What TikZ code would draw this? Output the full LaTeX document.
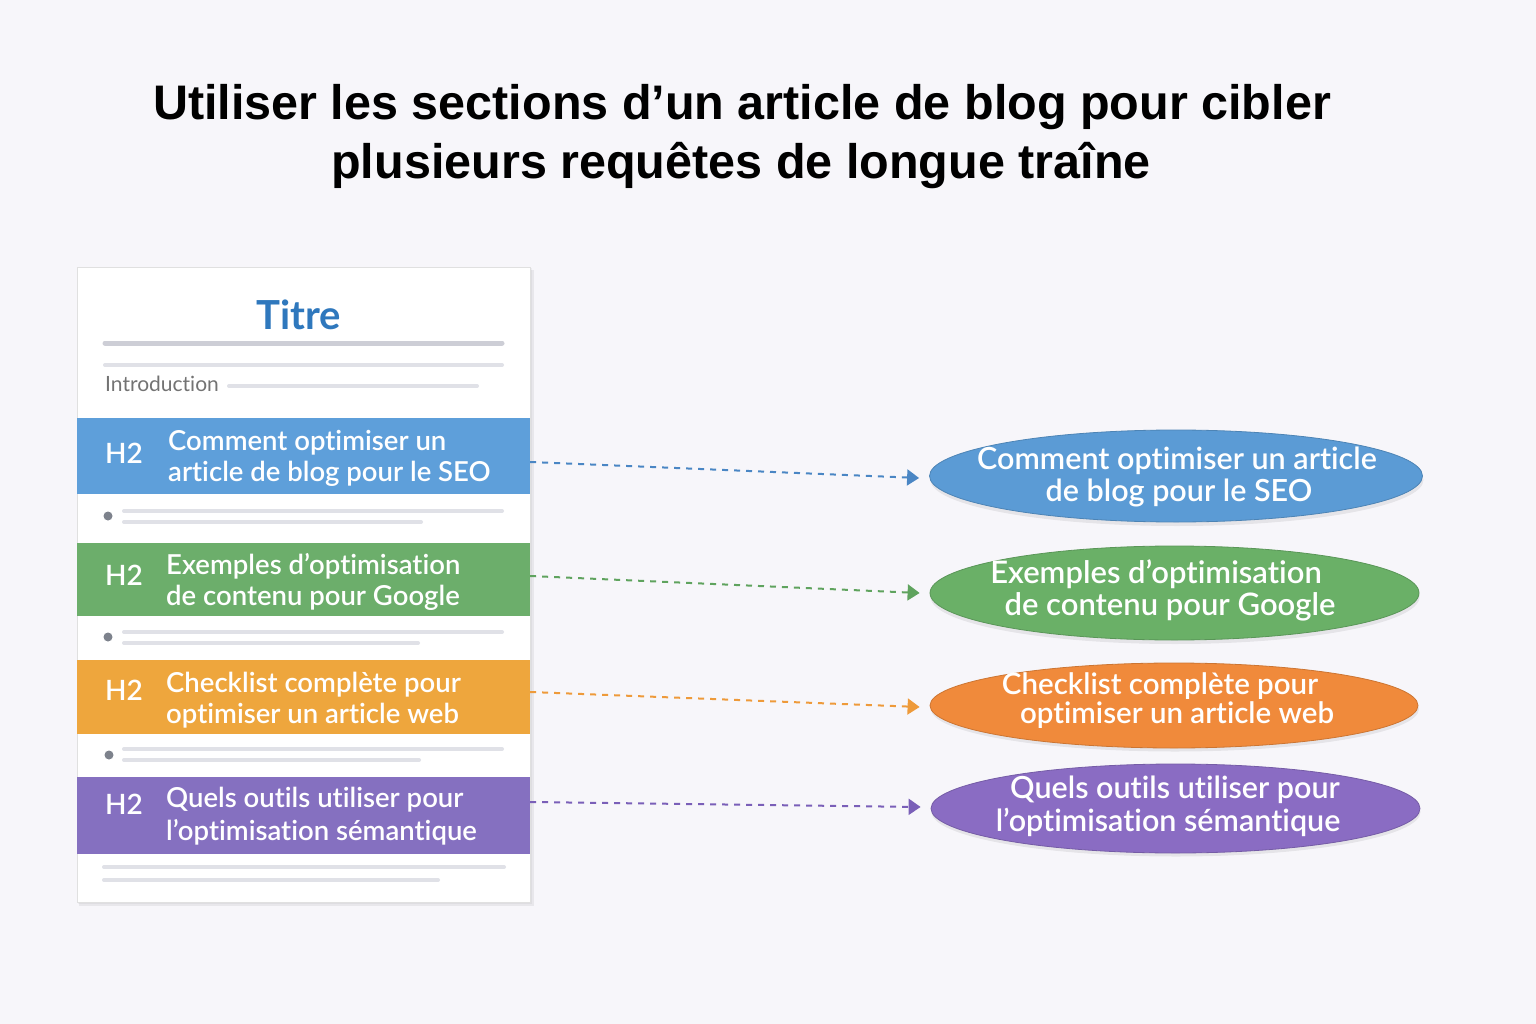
\documentclass[tikz,border=0pt]{standalone}
\usepackage{fontspec}
\setmainfont{Lato}[Ligatures=NoCommon]
\newfontfamily\medfont{Lato Semibold}[Ligatures=NoCommon]
\newfontfamily\titlefont{Liberation Sans}
\usetikzlibrary{arrows.meta,shapes.geometric}
\definecolor{bg}{HTML}{F7F6FA}
\definecolor{bandblue}{HTML}{5E9FDA}
\definecolor{bandgreen}{HTML}{6CAE6B}
\definecolor{bandorange}{HTML}{EEA63D}
\definecolor{bandpurple}{HTML}{8570C0}
\definecolor{eblue}{HTML}{5B9BD5}
\definecolor{egreen}{HTML}{6AB067}
\definecolor{eorange}{HTML}{F08A3B}
\definecolor{epurple}{HTML}{8A6CC3}
\definecolor{ablue}{HTML}{4A86C4}
\definecolor{agreen}{HTML}{5FA35E}
\definecolor{aorange}{HTML}{EE9A3A}
\definecolor{apurple}{HTML}{7A5FB8}
\definecolor{titreblue}{HTML}{2F78BD}
\definecolor{lgrey}{HTML}{D8D9E1}
\definecolor{dot}{HTML}{7D828C}
\begin{document}
\begin{tikzpicture}[x=1pt,y=-1pt,
  band/.style={rectangle,minimum width=453pt,inner sep=0pt,draw=none},
  htwo/.style={text=white,font=\medfont\fontsize{28}{30}\selectfont,anchor=west,inner sep=0pt},
  btext/.style={text=white,font=\medfont\fontsize{27.5}{31}\selectfont,anchor=west,align=left,inner sep=0pt},
  oval/.style={ellipse,inner sep=0pt,minimum width=493pt,minimum height=92pt},
  otext/.style={text=white,inner sep=0pt,text height=22pt,text depth=7pt,font=\medfont\fontsize{30.5}{32}\selectfont},
  oshadow/.style={ellipse,inner sep=0pt,minimum width=493pt,minimum height=92pt,fill=black,opacity=0.07},
  conn/.style={draw=#1,line width=2pt,dash pattern=on 6pt off 6pt,-{Triangle[length=12pt,width=16pt,fill=#1]}},
  gl/.style={draw=lgrey,line width=5pt,line cap=round},
  gls/.style={draw=lgrey!80,line width=4pt,line cap=round},
  bullet/.style={circle,fill=dot,inner sep=0pt,minimum size=9pt}
]
\fill[bg] (0,0) rectangle (1536,1024);
\useasboundingbox (0,0) rectangle (1536,1024);

% title
\node[font=\titlefont\bfseries\fontsize{48.5}{54}\selectfont] (t1) at (742,107) {Utiliser les sections d’un article de blog pour cibler};
\node[font=\titlefont\bfseries\fontsize{48.5}{54}\selectfont] (t2) at (741,166) {plusieurs requêtes de longue traîne};

% card
\fill[black,opacity=0.06] (79,270) rectangle (534,906);
\fill[black,opacity=0.04] (78,268) rectangle (532,904);
\node[rectangle,draw=black!12,fill=white,minimum width=453pt,minimum height=635pt,inner sep=0pt] (card) at (303.5,584.5) {};

\node[text=titreblue,font=\fontsize{40}{44}\selectfont\bfseries] (titre) at (299,315) {Titre};
\draw[gl,draw=lgrey!95!black] (105,343) -- (502,343);
\draw[gls] (105,365) -- (502,365);
\node[anchor=west,text=black!55,font=\fontsize{21}{23}\selectfont,inner sep=0pt] (intro) at (105,384) {Introduction};
\draw[gls] (229,386) -- (477,386);

% bands
\node[band,fill=bandblue,minimum height=76pt] (b1) at (303.5,456) {};
\node[htwo] (h1) at (105,453) {H2};
\node[btext] (x1) at (168,458) {Comment optimiser un\\article de blog pour le SEO};

\node[bullet] (d1) at (108,516) {};
\draw[gls] (124,511) -- (502,511);
\draw[gls] (124,522) -- (421,522);

\node[band,fill=bandgreen,minimum height=73pt] (b2) at (303.5,579.5) {};
\node[htwo] (h2) at (105,575) {H2};
\node[btext] (x2) at (166,582) {Exemples d’optimisation\\de contenu pour Google};

\node[bullet] (d2) at (108,637) {};
\draw[gls] (124,632) -- (502,632);
\draw[gls] (124,643) -- (418,643);

\node[band,fill=bandorange,minimum height=74pt] (b3) at (303.5,697) {};
\node[htwo] (h3) at (105,690) {H2};
\node[btext] (x3) at (166,700) {Checklist complète pour\\optimiser un article web};

\node[bullet] (d3) at (109,755) {};
\draw[gls] (124,749) -- (502,749);
\draw[gls] (124,760) -- (419,760);

\node[band,fill=bandpurple,minimum height=77pt] (b4) at (303.5,815.5) {};
\node[htwo] (h4) at (105,804) {H2};
\node[btext,font=\medfont\fontsize{27.5}{33}\selectfont] (x4) at (166,816) {Quels outils utiliser pour\\l’optimisation sémantique};

\draw[gls] (104,867) -- (504,867);
\draw[gls] (104,880) -- (438,880);

% ovals
\node[oshadow] at (1177,480) {};
\node[oval,fill=eblue,draw=eblue!85!black,line width=0.8pt] (e1) at (1176,476) {};
\node[otext] (o1a) at (1177,462) {Comment optimiser un article};
\node[otext] (o1b) at (1179,494) {de blog pour le SEO};

\node[oshadow,minimum width=489pt,minimum height=94pt] at (1175,597) {};
\node[oval,fill=egreen,draw=egreen!85!black,line width=0.8pt,minimum width=489pt,minimum height=94pt] (e2) at (1174.5,593) {};
\node[otext,font=\medfont\fontsize{31}{32}\selectfont] (o2a) at (1156,576) {Exemples d’optimisation};
\node[otext,font=\medfont\fontsize{31}{32}\selectfont] (o2b) at (1170,608) {de contenu pour Google};

\node[oshadow,minimum width=488pt,minimum height=85pt] at (1175,709) {};
\node[oval,fill=eorange,draw=eorange!85!black,line width=0.8pt,minimum width=488pt,minimum height=85pt] (e3) at (1174,705.5) {};
\node[otext,font=\medfont\fontsize{29.5}{32}\selectfont] (o3a) at (1160,687) {Checklist complète pour};
\node[otext,font=\medfont\fontsize{29.5}{32}\selectfont] (o3b) at (1177,716) {optimiser un article web};

\node[oshadow,minimum width=489pt,minimum height=89pt] at (1176,812) {};
\node[oval,fill=epurple,draw=epurple!85!black,line width=0.8pt,minimum width=489pt,minimum height=89pt] (e4) at (1175.5,808.5) {};
\node[otext] (o4a) at (1175,791) {Quels outils utiliser pour};
\node[otext] (o4b) at (1168,824) {l’optimisation sémantique};

% connectors
\draw[conn=ablue] ([yshift=-6pt]b1.east) -- ([xshift=-10pt,yshift=-2pt]e1.west);
\draw[conn=agreen] ([yshift=3.5pt]b2.east) -- ([xshift=-10pt]e2.west);
\draw[conn=aorange] ([yshift=5pt]b3.east) -- ([xshift=-10pt,yshift=-1.5pt]e3.west);
\draw[conn=apurple] ([yshift=13.5pt]b4.east) -- ([xshift=-10pt,yshift=1.5pt]e4.west);
\end{tikzpicture}
\end{document}
